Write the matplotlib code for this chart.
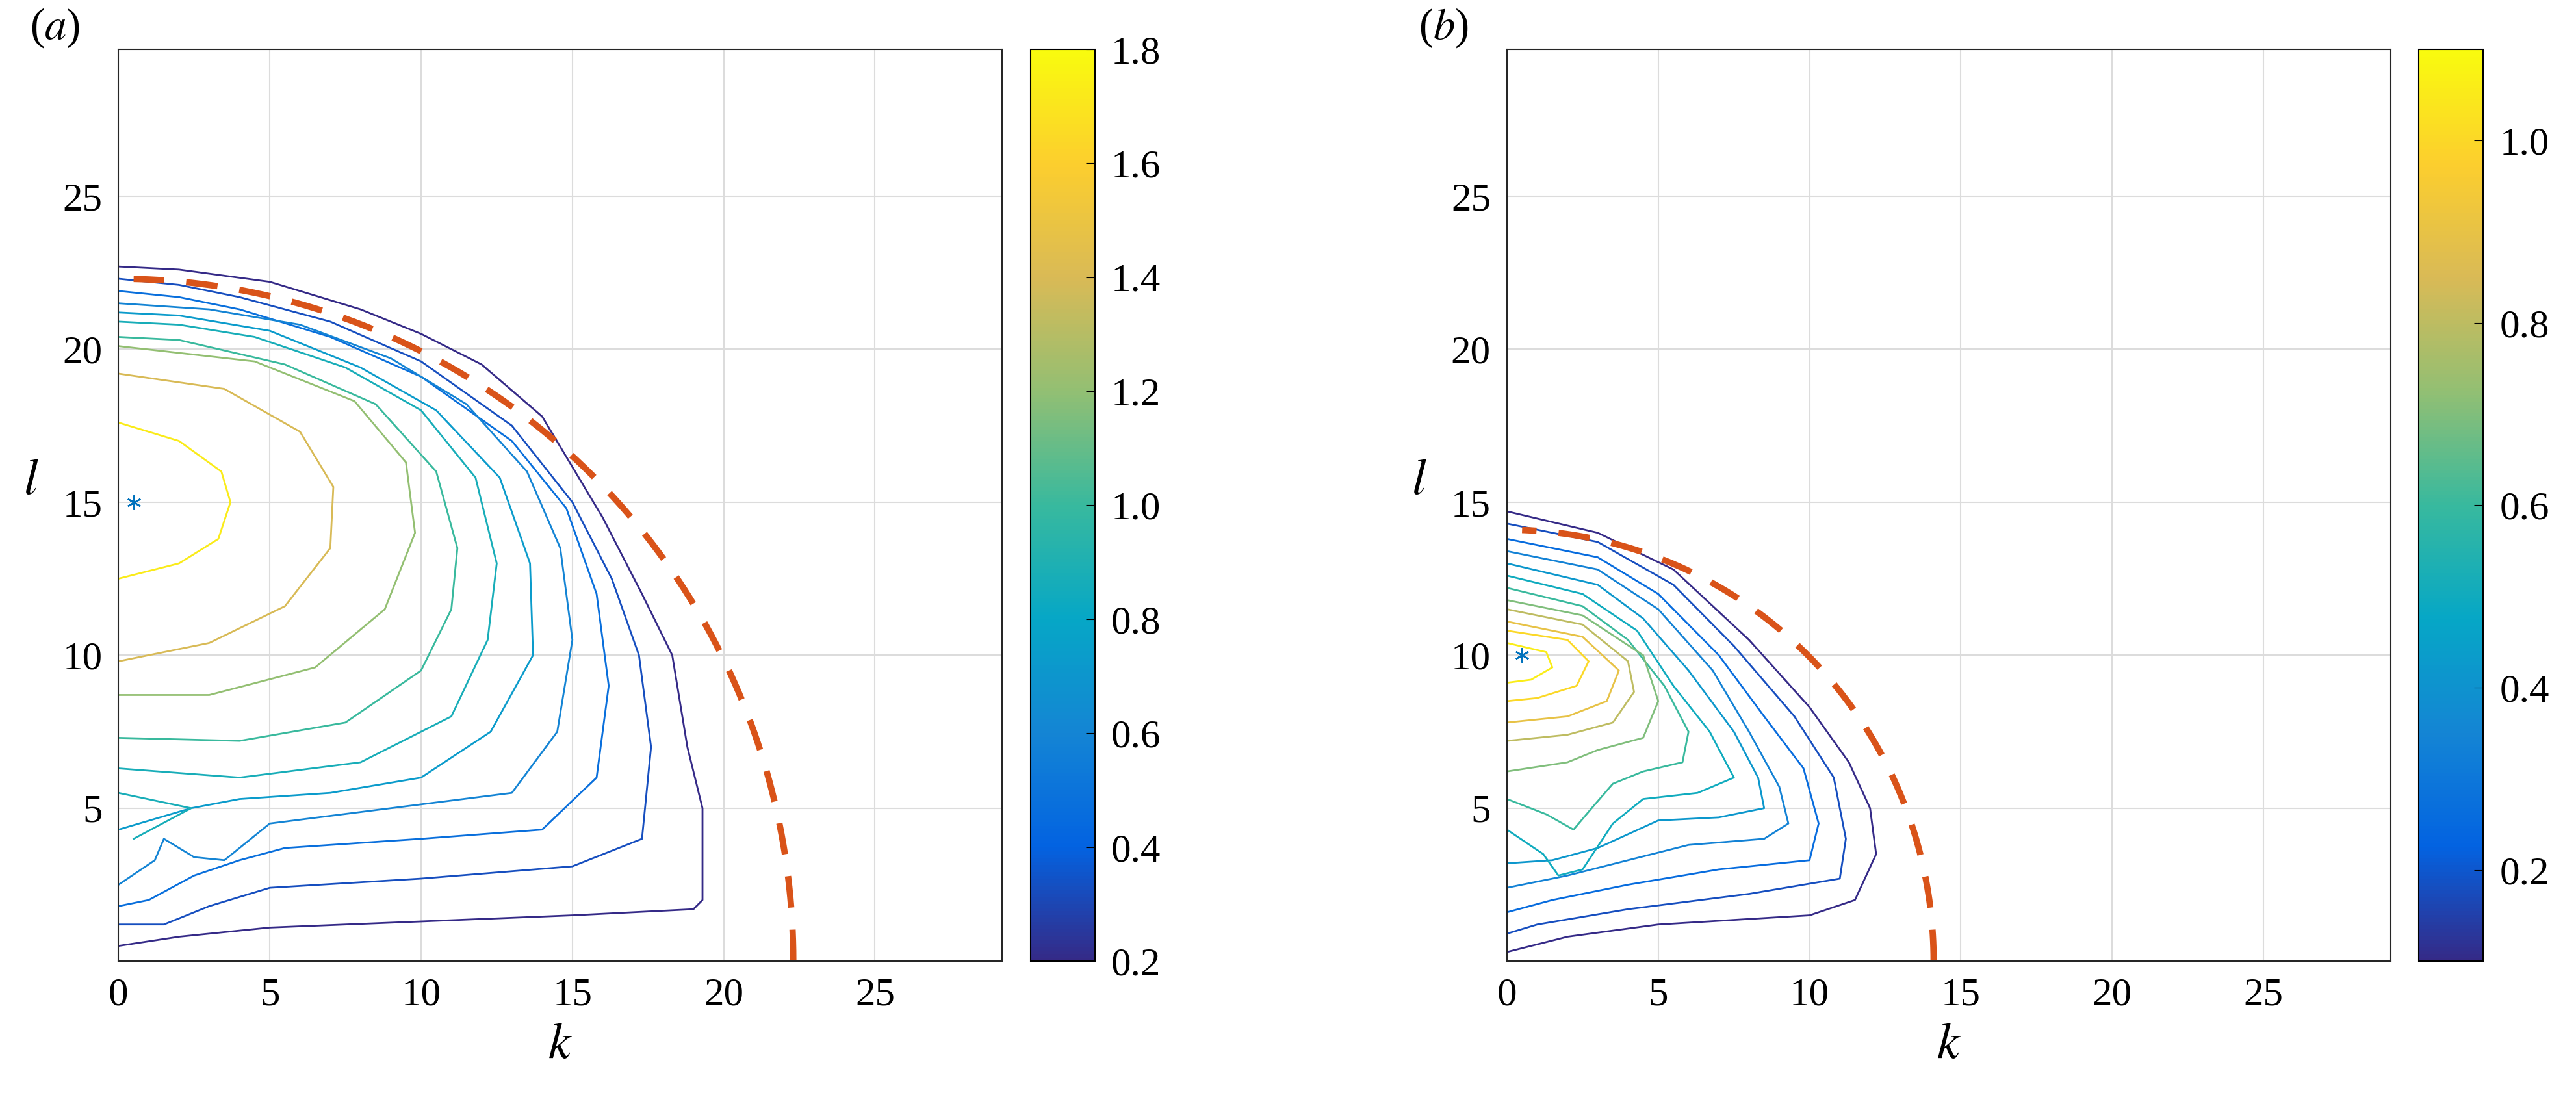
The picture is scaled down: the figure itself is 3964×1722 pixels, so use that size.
import numpy as np
import matplotlib
matplotlib.use('Agg')
import matplotlib.pyplot as plt
from matplotlib.colors import LinearSegmentedColormap, Normalize

plt.rcParams['font.family'] = ['Liberation Serif', 'DejaVu Serif']
plt.rcParams['mathtext.fontset'] = 'stix'

# parula-like colormap
parula = LinearSegmentedColormap.from_list('parula', [
    '#352a87', '#0363e1', '#1485d4', '#06a7c6', '#38b99e',
    '#92bf73', '#d9ba56', '#fcce2e', '#f9fb0e'])

# ---- panel (a) contour lines: (level, k points, l points)
lines_a = [
    (0.20, [0, 2, 5, 10, 15, 19, 19.3, 19.3, 18.8, 18.3, 17.3, 16, 14, 12, 10, 8, 5, 2, 0],
           [0.5, 0.8, 1.1, 1.3, 1.5, 1.7, 2, 5, 7, 10, 12, 14.5, 17.8, 19.5, 20.5, 21.3, 22.2, 22.6, 22.7]),
    (0.33, [0, 1.5, 3, 5, 10, 15, 17.3, 17.6, 17.2, 16.3, 15, 13, 10, 7, 4, 2, 0],
           [1.2, 1.2, 1.8, 2.4, 2.7, 3.1, 4, 7, 10, 12.5, 15, 17.5, 19.6, 20.9, 21.7, 22.1, 22.3]),
    (0.47, [0, 1, 2.5, 4, 5.5, 10, 14, 15.8, 16.2, 15.8, 14.8, 13, 10, 7, 4, 2, 0],
           [1.8, 2.0, 2.8, 3.3, 3.7, 4.0, 4.3, 6, 9, 12, 14.8, 17, 19.1, 20.4, 21.3, 21.7, 21.9]),
    (0.60, [0, 1.2, 1.5, 2.5, 3.5, 5, 9, 13, 14.5, 15, 14.6, 13.5, 11.5, 9, 6, 3, 0],
           [2.5, 3.3, 4.0, 3.4, 3.3, 4.5, 5.0, 5.5, 7.5, 10.5, 13.5, 16, 18.2, 19.7, 20.8, 21.3, 21.5]),
    (0.73, [0, 2.4, 4, 7, 10, 12.3, 13.7, 13.6, 12.6, 10.5, 8, 5, 2, 0],
           [4.3, 5.0, 5.3, 5.5, 6.0, 7.5, 10, 13, 15.8, 18.0, 19.4, 20.6, 21.1, 21.2]),
    (0.87, [0, 2.4, 0.5], [5.5, 5.0, 4.0]),
    (0.87, [0, 4, 8, 11, 12.2, 12.5, 11.8, 10, 7.5, 4.5, 2, 0],
           [6.3, 6.0, 6.5, 8.0, 10.5, 13, 15.8, 18, 19.4, 20.4, 20.8, 20.9]),
    (1.00, [0, 4, 7.5, 10, 11, 11.2, 10.5, 8.5, 5.5, 2, 0],
           [7.3, 7.2, 7.8, 9.5, 11.5, 13.5, 16, 18.2, 19.5, 20.3, 20.4]),
    (1.20, [0, 3, 6.5, 8.8, 9.8, 9.5, 7.8, 4.5, 0],
           [8.7, 8.7, 9.6, 11.5, 14, 16.3, 18.3, 19.6, 20.1]),
    (1.40, [0, 3, 5.5, 7, 7.1, 6, 3.5, 0],
           [9.8, 10.4, 11.6, 13.5, 15.5, 17.3, 18.7, 19.2]),
    (1.73, [0, 2, 3.3, 3.7, 3.4, 2, 0],
           [12.5, 13.0, 13.8, 15, 16, 17, 17.6]),
]

# ---- panel (b) contour lines
lines_b = [
    (0.10, [0, 2, 5, 10, 11.5, 12.2, 12, 11.3, 10, 8, 5.5, 3, 0],
           [0.3, 0.8, 1.2, 1.5, 2, 3.5, 5, 6.5, 8.3, 10.5, 12.8, 14, 14.7]),
    (0.18, [0, 1, 4, 8, 11, 11.2, 10.8, 9.5, 7.5, 5.5, 3, 0],
           [0.9, 1.2, 1.7, 2.2, 2.7, 4, 6, 8, 10.3, 12.3, 13.7, 14.3]),
    (0.26, [0, 1.5, 4, 7, 10, 10.3, 9.8, 8.5, 7, 5, 3, 0],
           [1.6, 2.0, 2.5, 3.0, 3.3, 4.5, 6.3, 8, 10, 12, 13.2, 13.8]),
    (0.34, [0, 2, 4, 6, 8.5, 9.3, 9, 8, 6.8, 5, 3, 0],
           [2.4, 2.8, 3.3, 3.8, 4.0, 4.5, 5.7, 7.5, 9.5, 11.5, 12.8, 13.4]),
    (0.42, [0, 1.5, 3, 5, 7, 8.5, 8.3, 7.5, 6, 4.5, 3, 0],
           [3.2, 3.3, 3.7, 4.6, 4.7, 5.0, 6, 7.5, 9.5, 11.2, 12.3, 13]),
    (0.50, [0, 1.2, 1.7, 2.5, 3.5, 4.5, 6.3, 7.5, 6.7, 5.5, 4.3, 2.5, 0],
           [4.3, 3.5, 2.8, 3.0, 4.5, 5.3, 5.5, 6.0, 7.5, 9, 10.8, 12, 12.6]),
    (0.60, [0, 1.3, 2.2, 2.8, 3.5, 4.5, 5.8, 6, 5.2, 4, 2.5, 0],
           [5.3, 4.8, 4.3, 5.0, 5.8, 6.2, 6.5, 7.5, 9, 10.5, 11.6, 12.2]),
    (0.70, [0, 2, 3, 4.5, 5, 4.5, 2.5, 0],
           [6.2, 6.5, 6.9, 7.3, 8.5, 10, 11.3, 11.8]),
    (0.80, [0, 2, 3.5, 4.2, 4, 2.5, 0],
           [7.2, 7.4, 7.8, 8.8, 9.8, 11, 11.5]),
    (0.90, [0, 2, 3.3, 3.7, 2.5, 0],
           [7.8, 8.0, 8.5, 9.5, 10.6, 11.1]),
    (1.00, [0, 1, 2.3, 2.7, 2, 0],
           [8.5, 8.6, 9.0, 9.8, 10.5, 10.8]),
    (1.06, [0, 0.8, 1.5, 1.3, 0],
           [9.1, 9.2, 9.6, 10.1, 10.4]),
]

radius_a = 22.3
radius_b = 14.1
star_a = (0.5, 15)
star_b = (0.5, 10)
clim_a = (0.2, 1.8)
clim_b = (0.1, 1.1)
cticks_a = [0.2, 0.4, 0.6, 0.8, 1.0, 1.2, 1.4, 1.6, 1.8]
cticks_b = [0.2, 0.4, 0.6, 0.8, 1.0]

fig = plt.figure(figsize=(39.64, 17.22), dpi=100)
FS = 44


def panel(ax_rect, cb_rect, lines, radius, star, clim, cticks, tag):
    ax = fig.add_axes(ax_rect)
    norm = Normalize(*clim)
    for lev, ks, ls in lines:
        ax.plot(ks, ls, color=parula(norm(lev)), lw=2)
    # bounding circle, starting just right of k = 0
    th = np.linspace(0, np.arccos(0.5 / radius), 200)
    ax.plot(radius * np.cos(th), radius * np.sin(th), color='#d95319',
            lw=7, dashes=(5, 3.5))
    ax.plot(*star, marker=(6, 2, 0), color='#0072bd', ms=16, mew=1.8)
    ax.set_xlim(0, 29.2)
    ax.set_ylim(0, 29.8)
    ax.set_xticks([0, 5, 10, 15, 20, 25])
    ax.set_yticks([5, 10, 15, 20, 25])
    ax.grid(True, color='#dcdcdc', lw=1.5)
    ax.tick_params(labelsize=FS, direction='in', length=0, pad=18)
    for s in ax.spines.values():
        s.set_linewidth(1.5)
        s.set_color('#262626')
    ax.set_xlabel('$k$', fontsize=FS + 12, labelpad=10)
    ax.set_ylabel('$l$', fontsize=FS + 12, rotation=0, labelpad=35)
    ax.text(-0.1, 1.0, tag, transform=ax.transAxes, fontsize=FS + 4, va='bottom')
    cax = fig.add_axes(cb_rect)
    sm = plt.cm.ScalarMappable(norm=norm, cmap=parula)
    cb = fig.colorbar(sm, cax=cax, ticks=cticks)
    cb.ax.tick_params(labelsize=FS, direction='in', length=10, pad=18)
    cb.outline.set_linewidth(1.5)
    return ax


panel([0.046, 0.141, 0.343, 0.815], [0.400, 0.141, 0.025, 0.815],
      lines_a, radius_a, star_a, clim_a, cticks_a, '($a$)')
panel([0.585, 0.141, 0.343, 0.815], [0.939, 0.141, 0.025, 0.815],
      lines_b, radius_b, star_b, clim_b, cticks_b, '($b$)')

fig.savefig('out.png', dpi=100)
